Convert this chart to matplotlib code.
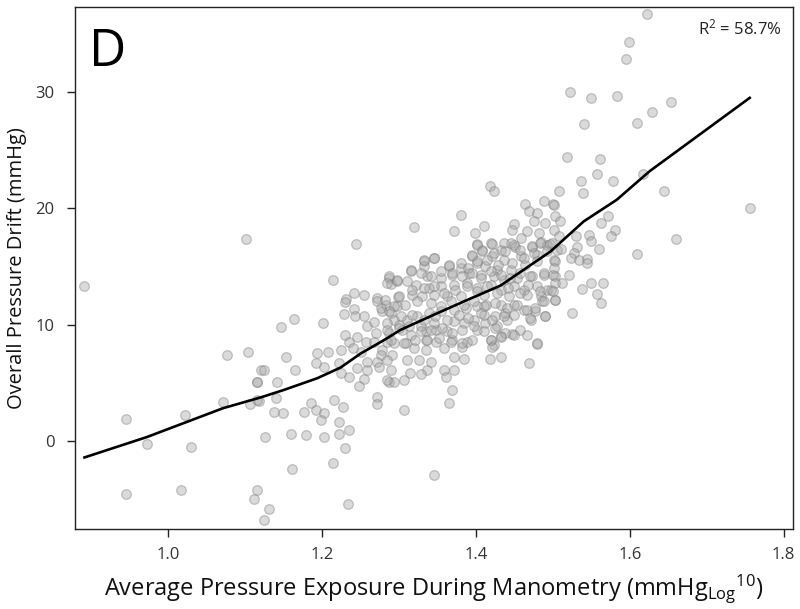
import matplotlib
matplotlib.use("Agg")
import matplotlib.pyplot as plt
import numpy as np

# ---- data ----
# scattered observations (x: log10 average pressure exposure, y: overall drift)
pts_left = [
    (1.101, 17.37), (0.891, 13.3), (1.076, 7.42), (1.104, 7.68), (1.116, 5.1),
    (1.121, 6.05), (1.071, 3.35), (1.106, 3.15), (1.118, 3.44), (1.022, 2.24),
    (0.945, 1.89), (0.972, -0.23), (1.029, -0.52), (0.945, -4.56), (1.017, -4.2),
]
pts_low = [
    (1.214, -1.89), (1.161, -2.43), (1.345, -2.9), (1.115, -4.2),
    (1.111, -4.99), (1.131, -5.87), (1.125, -6.79), (1.234, -5.47),
]
pts_mid_upper = [
    (1.244, 16.94), (1.214, 13.84), (1.287, 13.99), (1.289, 13.47), (1.298, 13.7),
    (1.241, 12.7), (1.255, 12.58), (1.271, 12.27), (1.299, 12.4), (1.231, 12.18),
]
pts_mid = [
    (1.147, 9.78), (1.164, 10.49), (1.201, 10.17), (1.229, 10.9), (1.23, 11.9),
    (1.242, 11.35), (1.243, 10.69), (1.255, 10.69), (1.259, 9.83), (1.267, 10.2),
    (1.271, 11.98), (1.278, 11.12), (1.283, 11.69), (1.290, 10.98), (1.298, 11.55),
    (1.294, 10.40), (1.285, 10.12), (1.300, 9.97),
    (1.23, 9.11), (1.235, 8.54), (1.246, 8.92), (1.257, 8.46), (1.268, 8.54),
    (1.278, 7.82), (1.285, 8.54), (1.294, 8.45), (1.27, 9.26), (1.287, 9.26),
    (1.224, 7.82), (1.24, 7.97), (1.25, 7.68), (1.276, 7.39), (1.291, 7.39),
    (1.259, 6.82), (1.272, 6.82), (1.285, 6.96), (1.193, 7.54), (1.208, 7.63),
    (1.153, 7.25), (1.192, 6.68), (1.202, 6.39), (1.222, 6.68), (1.225, 5.82),
    (1.235, 5.48), (1.245, 6.25), (1.255, 5.33), (1.248, 4.73), (1.259, 6.05),
    (1.274, 6.39), (1.289, 6.1), (1.287, 5.1), (1.294, 5.02), (1.284, 5.24),
    (1.165, 6.05), (1.125, 6.05), (1.115, 5.1), (1.141, 5.1),
    (1.14, 3.67), (1.115, 3.5), (1.186, 3.29), (1.192, 2.67), (1.202, 2.37),
    (1.177, 2.52), (1.138, 2.52), (1.149, 2.37), (1.215, 3.53), (1.227, 2.95),
    (1.272, 3.76), (1.272, 3.15), (1.198, 1.81), (1.222, 1.66), (1.235, 0.95),
    (1.222, 0.58), (1.203, 0.32), (1.179, 0.52), (1.16, 0.58), (1.126, 0.37),
    (1.23, -0.63),
]
pts_upper = [
    (1.418, 21.95), (1.424, 21.44), (1.381, 19.43), (1.32, 18.37), (1.371, 18.08),
    (1.464, 20.38), (1.489, 20.66), (1.469, 19.8), (1.48, 19.57), (1.475, 18.86),
    (1.49, 18.71), (1.449, 18.66), (1.447, 18.14), (1.41, 18.43), (1.399, 17.86),
    (1.467, 18.0), (1.459, 17.43), (1.482, 17.91), (1.402, 16.94), (1.419, 16.99),
    (1.408, 16.42), (1.432, 16.42), (1.445, 16.99), (1.451, 16.7), (1.473, 16.7),
    (1.484, 17.13), (1.492, 16.85), (1.395, 15.85), (1.421, 15.85), (1.436, 15.56),
    (1.458, 15.85), (1.48, 15.99), (1.332, 15.5), (1.346, 15.7), (1.316, 14.7),
    (1.332, 14.99), (1.365, 14.99), (1.38, 14.85), (1.402, 15.28), (1.412, 14.99),
    (1.428, 14.7), (1.445, 14.7), (1.464, 15.13), (1.337, 14.13), (1.354, 13.99),
    (1.369, 14.27), (1.391, 14.42), (1.406, 14.27), (1.423, 14.13), (1.436, 13.84),
    (1.454, 13.99), (1.473, 14.13), (1.488, 14.27), (1.311, 13.7), (1.322, 13.41),
    (1.339, 13.13), (1.354, 13.27), (1.371, 13.41), (1.389, 13.56), (1.402, 13.13),
    (1.419, 13.41), (1.432, 12.98), (1.449, 13.27), (1.462, 12.98), (1.48, 13.27),
    (1.492, 12.98), (1.317, 12.55), (1.33, 12.41), (1.345, 12.55), (1.363, 12.41),
    (1.38, 12.47), (1.41, 12.55), (1.443, 12.41), (1.467, 12.55), (1.484, 12.41),
]
pts_lower = [
    (1.48, 8.31), (1.469, 6.73), (1.447, 9.2), (1.433, 9.05), (1.419, 8.68),
    (1.423, 8.25), (1.418, 7.05), (1.433, 7.19), (1.471, 10.4), (1.49, 10.69),
    (1.477, 11.12), (1.486, 11.98), (1.462, 11.26), (1.441, 10.4), (1.428, 9.83),
    (1.412, 10.12), (1.402, 9.54), (1.389, 8.54), (1.382, 8.11), (1.384, 7.02),
    (1.371, 7.25), (1.372, 6.1), (1.358, 6.1), (1.361, 5.53), (1.369, 4.39),
    (1.365, 3.24), (1.337, 6.1), (1.329, 5.76), (1.314, 5.87), (1.307, 5.19),
    (1.306, 2.61), (1.341, 6.82), (1.326, 6.96), (1.311, 6.96), (1.32, 7.97),
    (1.309, 8.4), (1.335, 7.82), (1.358, 7.97), (1.348, 8.54), (1.369, 8.68),
    (1.335, 8.68), (1.315, 9.11), (1.335, 9.4), (1.348, 9.54), (1.363, 9.4),
    (1.371, 10.26), (1.384, 10.12), (1.397, 10.4), (1.41, 10.83), (1.425, 10.69),
    (1.438, 10.98), (1.449, 11.69), (1.432, 11.69), (1.413, 11.69), (1.402, 11.55),
    (1.387, 11.41), (1.371, 11.26), (1.354, 11.12), (1.339, 10.98), (1.324, 10.69),
    (1.311, 10.4), (1.328, 9.83), (1.345, 10.12), (1.304, 9.54),
]
pts_core = [
    (1.401, 16.85), (1.421, 16.94), (1.436, 17.05), (1.449, 16.85), (1.473, 16.76),
    (1.483, 16.99), (1.496, 16.94), (1.395, 15.99), (1.408, 16.28), (1.423, 16.13),
    (1.438, 16.28), (1.457, 16.42), (1.475, 16.13), (1.492, 16.28), (1.505, 16.42),
    (1.332, 15.56), (1.345, 15.70), (1.365, 15.13), (1.380, 15.27), (1.390, 14.84),
    (1.401, 15.42), (1.414, 15.56), (1.429, 15.13), (1.447, 15.27), (1.462, 15.70),
    (1.479, 15.42), (1.501, 15.56), (1.315, 14.56),
    (1.287, 14.13), (1.298, 13.84), (1.328, 14.42), (1.341, 14.13), (1.354, 14.56),
    (1.369, 14.42), (1.382, 14.13), (1.395, 14.42), (1.406, 13.99), (1.419, 14.56),
    (1.432, 14.27), (1.444, 13.99), (1.457, 14.42), (1.470, 14.13), (1.488, 14.42),
    (1.503, 14.13), (1.285, 13.56),
    (1.317, 12.98), (1.332, 13.13), (1.345, 13.27), (1.358, 12.70), (1.373, 12.98),
    (1.388, 13.27), (1.401, 12.84), (1.414, 13.27), (1.427, 12.70), (1.442, 13.13),
    (1.457, 12.70), (1.468, 13.41), (1.483, 12.84), (1.498, 12.98), (1.300, 12.41),
    (1.282, 12.12),
    (1.276, 11.41), (1.293, 11.55), (1.308, 11.69), (1.324, 11.98), (1.341, 11.84),
    (1.354, 11.55), (1.367, 11.98), (1.384, 11.69), (1.397, 11.98), (1.410, 11.55),
    (1.425, 11.84), (1.440, 11.41), (1.453, 11.69), (1.466, 11.26), (1.477, 11.41),
    (1.488, 11.98), (1.503, 12.12),
    (1.287, 11.12), (1.302, 10.69), (1.317, 10.83), (1.332, 10.40), (1.347, 10.69),
    (1.362, 10.40), (1.378, 10.83), (1.390, 10.55), (1.406, 10.98), (1.421, 10.40),
    (1.436, 10.69), (1.449, 10.83), (1.470, 10.55), (1.490, 10.69),
    (1.285, 9.54), (1.300, 9.69), (1.313, 9.83), (1.328, 9.40), (1.341, 9.54),
    (1.356, 9.69), (1.369, 9.26), (1.382, 9.54), (1.397, 9.83), (1.410, 9.40),
    (1.425, 9.69), (1.438, 9.26), (1.457, 9.54), (1.466, 9.11),
    (1.289, 8.68), (1.306, 8.40), (1.321, 8.68), (1.336, 8.68), (1.352, 8.83),
    (1.367, 8.54), (1.382, 8.40), (1.395, 8.68), (1.419, 8.68), (1.432, 8.97),
    (1.449, 9.11), (1.479, 8.40), (1.421, 8.11),
]
pts_right = [
    (1.623, 36.7), (1.599, 34.3), (1.595, 32.85), (1.522, 30.0), (1.55, 29.5),
    (1.584, 29.66), (1.653, 29.15), (1.629, 28.29), (1.54, 27.26), (1.61, 27.32),
    (1.518, 24.39), (1.561, 24.27), (1.557, 22.9), (1.537, 22.36), (1.578, 22.36),
    (1.617, 22.93), (1.508, 21.44), (1.539, 21.35), (1.644, 21.5), (1.5, 20.33),
    (1.756, 20.0), (1.66, 17.34), (1.61, 16.05), (1.572, 19.35), (1.562, 18.72),
    (1.581, 18.14), (1.575, 17.65), (1.547, 17.71), (1.55, 17.22), (1.53, 17.65),
    (1.531, 16.7), (1.56, 16.48), (1.51, 16.48), (1.502, 20.29), (1.503, 19.29),
    (1.509, 18.86), (1.501, 18.14), (1.508, 17.57), (1.499, 17.0), (1.527, 16.14),
    (1.523, 15.71), (1.534, 15.56), (1.544, 15.62), (1.544, 15.28), (1.503, 15.48),
    (1.502, 14.85), (1.5, 14.27), (1.521, 14.27), (1.512, 13.56), (1.503, 13.56),
    (1.55, 13.61), (1.565, 13.61), (1.538, 13.04), (1.557, 12.64), (1.5, 12.84),
    (1.503, 12.12), (1.562, 11.89), (1.525, 10.98),
]

# smoothed (LOESS) fit line
fit_x = [0.891, 0.972, 1.071, 1.121, 1.151, 1.194, 1.224, 1.25, 1.281, 1.302,
         1.345, 1.389, 1.432, 1.497, 1.54, 1.583, 1.626, 1.691, 1.756]
fit_y = [-1.43, 0.32, 2.8, 3.75, 4.39, 5.39, 6.3, 7.5, 8.68, 9.54,
         10.83, 12.12, 13.35, 16.28, 18.86, 20.72, 23.19, 26.34, 29.49]

x_ticks = [1.0, 1.2, 1.4, 1.6, 1.8]
y_ticks = [0, 10, 20, 30]
panel_label = "D"
r2_text = r"R$^{2}$ = 58.7%"
x_label = r"Average Pressure Exposure During Manometry (mmHg$_{\mathrm{Log}}{}^{\mathrm{10}}$)"
y_label = "Overall Pressure Drift (mmHg)"

# ---- plotting ----
FONT = "Open Sans"
plt.rcParams['font.family'] = [FONT, 'DejaVu Sans']
plt.rcParams['mathtext.fontset'] = 'custom'
plt.rcParams['mathtext.rm'] = FONT
plt.rcParams['mathtext.it'] = FONT
plt.rcParams['mathtext.bf'] = FONT

all_pts = (pts_left + pts_low + pts_mid_upper + pts_mid + pts_upper +
           pts_lower + pts_core + pts_right)
xs = np.array([p[0] for p in all_pts])
ys = np.array([p[1] for p in all_pts])

fig = plt.figure(figsize=(8.0, 6.09), dpi=100)
ax = fig.add_axes([0.094, 0.131, 0.897, 0.8575])

ax.scatter(xs, ys, s=48, facecolor='#a8a8a8', edgecolor='#7a7a7a',
           linewidths=0.9, alpha=0.42, zorder=2)
ax.plot(fit_x, fit_y, color='black', lw=1.9, zorder=3)

ax.set_xlim(0.879, 1.812)
ax.set_ylim(-7.6, 37.3)
ax.set_xticks(x_ticks)
ax.set_xticklabels([f"{v:.1f}" for v in x_ticks])
ax.set_yticks(y_ticks)
ax.tick_params(axis='both', direction='out', length=6, width=1,
               labelsize=12, colors='#222222', labelcolor='#333333')
ax.tick_params(axis='y', pad=9)
ax.tick_params(axis='x', pad=7)
for sp in ax.spines.values():
    sp.set_color('#222222')
    sp.set_linewidth(1.0)

ax.set_xlabel(x_label, fontsize=17, labelpad=6, color='#111111')
ax.set_ylabel(y_label, fontsize=14.5, labelpad=6, color='#111111')

ax.text(0.019, 0.962, panel_label, transform=ax.transAxes, fontsize=37,
        va='top', ha='left', color='black')
ax.text(0.985, 0.978, r2_text, transform=ax.transAxes, fontsize=12,
        va='top', ha='right', color='#222222')

fig.savefig("out.png", dpi=100)
